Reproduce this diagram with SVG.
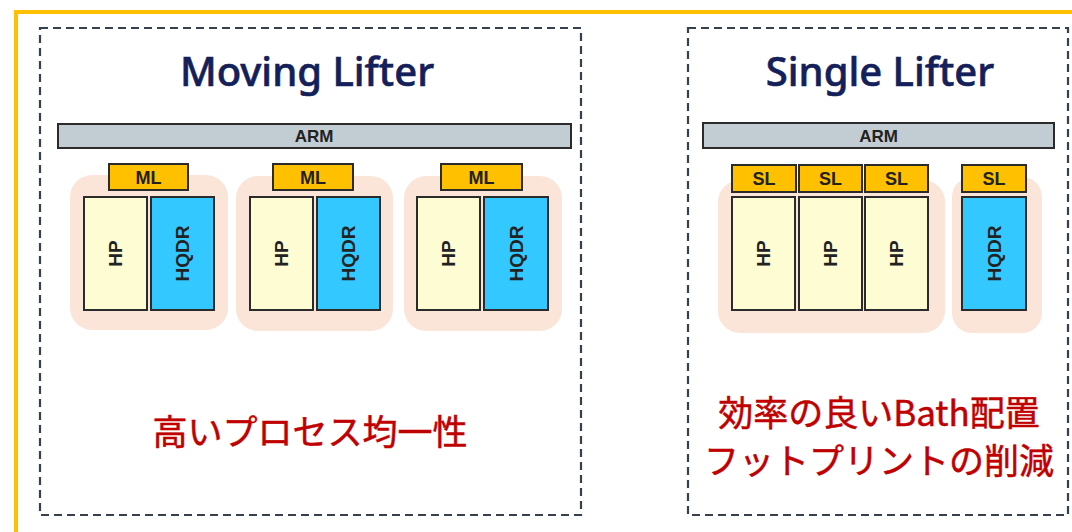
<svg xmlns="http://www.w3.org/2000/svg" width="1072" height="532" viewBox="0 0 1072 532">
<style>
.frame{fill:none;stroke:#FFC000;stroke-width:4}
.dash{fill:none;stroke:#36414D;stroke-width:2.2;stroke-dasharray:8 5}
.title{font-family:"Noto Sans","Liberation Sans",sans-serif;font-size:40px;font-weight:500;fill:#13205A;stroke:#13205A;stroke-width:0.6;text-anchor:middle}
.arm{fill:#C2CDD3;stroke:#2B2B2B;stroke-width:2}
.lbl{font-family:"Liberation Sans",Arial,sans-serif;font-weight:bold;fill:#222;text-anchor:middle}
.ml{fill:#FFC000;stroke:#2B2B2B;stroke-width:2}
.bg{fill:#FBE5D9}
.hp{fill:#FEFCD3;stroke:#2B2B2B;stroke-width:2}
.hq{fill:#33C8FF;stroke:#2B2B2B;stroke-width:2}
.note{font-family:"Noto Sans CJK JP","Noto Sans",sans-serif;font-size:35px;fill:#C00000;stroke:#C00000;stroke-width:0.5;text-anchor:middle;font-weight:400}
</style>
<rect width="1072" height="532" fill="#FFFFFF"/>
<path class="frame" d="M16,532 V12 H1072"/>

<g id="moving-lifter">
<rect class="dash" x="40" y="28" width="541" height="487"/>
<text class="title" x="307" y="86">Moving Lifter</text>
<g id="arm-left"><rect class="arm" x="58" y="124" width="513" height="24"/><text class="lbl" x="314" y="142" font-size="17">ARM</text></g>
<g id="ml1">
<rect class="bg" x="70" y="175" width="158" height="155" rx="22"/>
<rect class="ml" x="109" y="164" width="79" height="26"/><text class="lbl" x="148.5" y="183.5" font-size="18">ML</text>
<rect class="hp" x="84" y="197" width="63" height="113"/><text class="lbl" font-size="19" transform="translate(122,253.5) rotate(-90)">HP</text>
<rect class="hq" x="151" y="197" width="63" height="113"/><text class="lbl" font-size="19" transform="translate(189,253.5) rotate(-90)">HQDR</text>
</g>
<g id="ml2">
<rect class="bg" x="236" y="176" width="157" height="155" rx="22"/>
<rect class="ml" x="273" y="164" width="80" height="26"/><text class="lbl" x="313" y="183.5" font-size="18">ML</text>
<rect class="hp" x="250" y="197" width="63" height="113"/><text class="lbl" font-size="19" transform="translate(288,253.5) rotate(-90)">HP</text>
<rect class="hq" x="317" y="197" width="63" height="113"/><text class="lbl" font-size="19" transform="translate(355,253.5) rotate(-90)">HQDR</text>
</g>
<g id="ml3">
<rect class="bg" x="404" y="176" width="158" height="155" rx="22"/>
<rect class="ml" x="441" y="164" width="81" height="26"/><text class="lbl" x="481.5" y="183.5" font-size="18">ML</text>
<rect class="hp" x="417" y="197" width="63" height="113"/><text class="lbl" font-size="19" transform="translate(455,253.5) rotate(-90)">HP</text>
<rect class="hq" x="484" y="197" width="64" height="113"/><text class="lbl" font-size="19" transform="translate(522.5,253.5) rotate(-90)">HQDR</text>
</g>
<text class="note" x="310" y="445">高いプロセス均一性</text>
</g>

<g id="single-lifter">
<rect class="dash" x="688" y="28" width="380" height="487"/>
<text class="title" x="880" y="86">Single Lifter</text>
<g id="arm-right"><rect class="arm" x="703" y="123" width="351" height="25"/><text class="lbl" x="878.5" y="141.5" font-size="17">ARM</text></g>
<g id="sl-hp">
<rect class="bg" x="718" y="180" width="227" height="153" rx="22"/>
<rect class="ml" x="732" y="165" width="64" height="27"/><text class="lbl" x="764" y="185" font-size="18">SL</text>
<rect class="ml" x="799" y="165" width="63" height="27"/><text class="lbl" x="830.5" y="185" font-size="18">SL</text>
<rect class="ml" x="865" y="165" width="63" height="27"/><text class="lbl" x="896.5" y="185" font-size="18">SL</text>
<rect class="hp" x="732" y="197" width="63" height="113"/><text class="lbl" font-size="19" transform="translate(770,253.5) rotate(-90)">HP</text>
<rect class="hp" x="799" y="197" width="63" height="113"/><text class="lbl" font-size="19" transform="translate(837,253.5) rotate(-90)">HP</text>
<rect class="hp" x="865" y="197" width="63" height="113"/><text class="lbl" font-size="19" transform="translate(903,253.5) rotate(-90)">HP</text>
</g>
<g id="sl-hqdr">
<rect class="bg" x="952" y="177" width="90" height="156" rx="20"/>
<rect class="ml" x="962" y="165" width="64" height="27"/><text class="lbl" x="994" y="185" font-size="18">SL</text>
<rect class="hq" x="962" y="197" width="64" height="113"/><text class="lbl" font-size="19" transform="translate(1000.5,253.5) rotate(-90)">HQDR</text>
</g>
<text class="note" x="879" y="426">効率の良いBath配置</text>
<text class="note" x="879" y="474">フットプリントの削減</text>
</g>
<g id="connectors"/>
</svg>
